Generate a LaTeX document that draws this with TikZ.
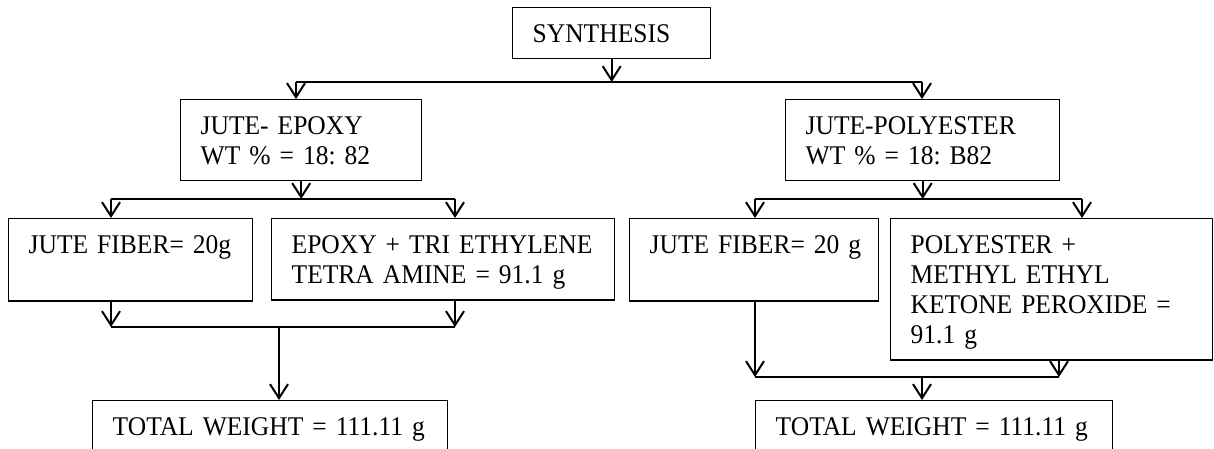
\documentclass[tikz,border=0pt]{standalone}
\usepackage{fontspec}
\setmainfont{Liberation Serif}[FakeStretch=0.945]
\usepackage{tikz}
\usetikzlibrary{arrows.meta, positioning}

\newcommand{\tstrut}{\rule[-5.5pt]{0pt}{30pt}}

\tikzstyle{stage} = [
    rectangle,
    draw=black,
    line width=1.4pt,
    anchor=north west,
    align=left,
    inner xsep=20pt,
    inner ysep=10.5pt,
    font=\fontsize{27}{30}\selectfont\frenchspacing,
    execute at begin node=\tstrut,
    execute at end node=\tstrut
]
\tikzstyle{arrow} = [
    line width=2pt,
    ->,
    >={Straight Barb[length=14pt, width=18pt]}
]
\tikzstyle{bar} = [
    line width=2pt
]

\begin{document}
\begin{tikzpicture}[x=1pt, y=-1pt]
        \useasboundingbox (0,0) rectangle (1214,448);

        \node[stage, text width=158pt] (synth) at (512,7) {SYNTHESIS};
        \node[stage, text width=201pt] (je) at (180,99) {JUTE- EPOXY\\WT \% = 18: 82};
        \node[stage, text width=234pt] (jp) at (785,99) {JUTE-POLYESTER\\WT \% = 18: B82};
        \node[stage, text width=204pt] (jfl) at (8,218) {\mbox{JUTE FIBER= 20g}\\};
        \node[stage, text width=303pt] (ep) at (271,218) {EPOXY + TRI ETHYLENE\\TETRA AMINE = 91.1 g};
        \node[stage, text width=209pt] (jfr) at (629,218) {\mbox{JUTE FIBER= 20 g}\\};
        \node[stage, text width=282pt] (pm) at (890,218) {POLYESTER +\\METHYL ETHYL\\KETONE PEROXIDE =\\91.1 g};
        \node[stage, text width=315pt] (twl) at (92,400) {TOTAL WEIGHT = 111.11 g};
        \node[stage, text width=317pt] (twr) at (755,400) {TOTAL WEIGHT = 111.11 g};

        % bar levels
        \coordinate (b1l) at (296,82);
        \coordinate (b1r) at (922,82);
        \coordinate (ebar1) at (111,199);
        \coordinate (ebar2) at (455,199);
        \coordinate (pbar1) at (755,199);
        \coordinate (pbar2) at (1082,199);
        \coordinate (sl1) at (111,327);
        \coordinate (sl2) at (455,327);
        \coordinate (slm) at (279,327);
        \coordinate (sr1) at (755,377);
        \coordinate (sr2) at (1059,377);
        \coordinate (srm) at (922,377);

        \draw[arrow] (synth.south) -- (synth.south |- b1l);
        \draw[bar] (b1l) -- (b1r);
        \draw[arrow] (b1l) -- (b1l |- je.north);
        \draw[arrow] (b1r) -- (b1r |- jp.north);

        \draw[arrow] (je.south) -- (je.south |- ebar1);
        \draw[bar] (ebar1) -- (ebar2);
        \draw[arrow] (ebar1) -- (ebar1 |- jfl.north);
        \draw[arrow] (ebar2) -- (ebar2 |- ep.north);

        \draw[arrow] (jp.south) -- (jp.south |- pbar1);
        \draw[bar] (pbar1) -- (pbar2);
        \draw[arrow] (pbar1) -- (pbar1 |- jfr.north);
        \draw[arrow] (pbar2) -- (pbar2 |- pm.north);

        \draw[arrow] (sl1 |- jfl.south) -- (sl1);
        \draw[arrow] (sl2 |- ep.south) -- (sl2);
        \draw[bar] (sl1) -- (sl2);
        \draw[arrow] (slm) -- (slm |- twl.north);

        \draw[arrow] (sr1 |- jfr.south) -- (sr1);
        \draw[arrow] (sr2 |- pm.south) -- (sr2);
        \draw[bar] (sr1) -- (sr2);
        \draw[arrow] (srm) -- (srm |- twr.north);
    \end{tikzpicture}
\end{document}
